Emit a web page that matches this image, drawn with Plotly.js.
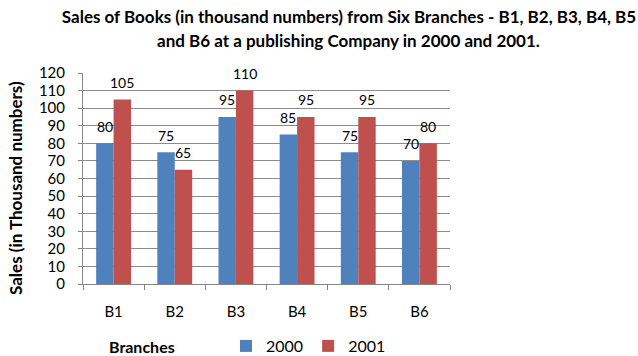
<!DOCTYPE html>
<html>
<head>
<meta charset="utf-8">
<script src="https://cdn.plot.ly/plotly-3.0.1.min.js"></script>
<style>html,body{margin:0;padding:0;background:#fff;}#chart{width:638px;height:356px;}</style>
</head>
<body>
<div id="chart"></div>
<script>
const branches = ["B1", "B2", "B3", "B4", "B5", "B6"];
const sales2000 = [80, 75, 95, 85, 75, 70];
const sales2001 = [105, 65, 110, 95, 95, 80];
const seriesNames = ["2000", "2001"];
const yTicks = [0, 10, 20, 30, 40, 50, 60, 70, 80, 90, 100, 110, 120];

const colors = ["#4F81BD", "#C0504D"];
const font = "Lato, 'Open Sans', sans-serif";
const bargap = 0.43;
const half = (1 - bargap) / 4;

const traces = [sales2000, sales2001].map((vals, k) => ({
  type: "bar",
  name: seriesNames[k],
  x: branches,
  y: vals,
  marker: {color: colors[k], line: {width: 0}},
  hoverinfo: "x+y+name"
}));

const annotations = [];
[sales2000, sales2001].forEach((vals, k) => {
  vals.forEach((v, i) => {
    annotations.push({
      xref: "x", yref: "y",
      x: i + (k === 0 ? -half : half),
      y: v,
      text: String(v),
      showarrow: false,
      yanchor: "middle",
      yshift: 17,
      font: {family: font, size: 14, color: "#000"}
    });
  });
});

annotations.push({
  xref: "paper", yref: "paper",
  x: (348 - 83) / 367, y: (284 - 40) / 211,
  text: "<b>and B6 at a publishing Company in 2000 and 2001.</b>",
  showarrow: false, xanchor: "center", yanchor: "middle",
  font: {family: font, size: 17, color: "#000"}
});
annotations.push({
  xref: "paper", yref: "paper",
  x: (15 - 83) / 367, y: (284 - 188) / 211,
  text: "<b>Sales (in Thousand numbers)</b>",
  textangle: -90,
  showarrow: false, xanchor: "center", yanchor: "middle",
  font: {family: font, size: 17, color: "#000"}
});
annotations.push({
  xref: "paper", yref: "paper",
  x: (107 - 83) / 367, y: (284 - 346) / 211,
  text: "<b>Branches</b>",
  showarrow: false, xanchor: "left", yanchor: "middle",
  font: {family: font, size: 16, color: "#000"}
});

const layout = {
  width: 638, height: 356,
  margin: {l: 83, r: 188, t: 73, b: 72, autoexpand: false},
  paper_bgcolor: "#fff",
  plot_bgcolor: "#fff",
  font: {family: font, color: "#000"},
  title: {
    text: "<b>Sales of Books (in thousand numbers) from Six Branches - B1, B2, B3, B4, B5</b>",
    xref: "container", yref: "container",
    x: 349 / 638, y: 1 - 17 / 356,
    xanchor: "center", yanchor: "middle",
    font: {family: font, size: 17, color: "#000"}
  },
  barmode: "group",
  bargap: bargap,
  bargroupgap: 0,
  showlegend: true,
  legend: {
    orientation: "h",
    x: (226 - 83) / 367, y: (284 - 346) / 211,
    xanchor: "left", yanchor: "middle",
    font: {family: font, size: 16, color: "#000"},
    bgcolor: "rgba(0,0,0,0)",
    traceorder: "normal"
  },
  xaxis: {
    type: "category",
    showline: true, linecolor: "#868686", linewidth: 1,
    ticks: "outside", tickson: "boundaries", ticklen: 5, tickcolor: "#868686",
    showgrid: false, zeroline: false,
    tickfont: {family: font, size: 15, color: "#000"},
    ticklabelstandoff: 14,
    fixedrange: true
  },
  yaxis: {
    range: [0, 120],
    tickvals: yTicks,
    ticktext: yTicks.map(String),
    showline: true, linecolor: "#868686", linewidth: 1,
    ticks: "outside", ticklen: 4, tickcolor: "#868686",
    showgrid: true, gridcolor: "#8c8c8c", gridwidth: 1,
    zeroline: false,
    tickfont: {family: font, size: 15, color: "#000"},
    ticklabelstandoff: 10,
    fixedrange: true
  },
  annotations: annotations
};

Plotly.newPlot("chart", traces, layout, {displayModeBar: false, staticPlot: true});
</script>
</body>
</html>
